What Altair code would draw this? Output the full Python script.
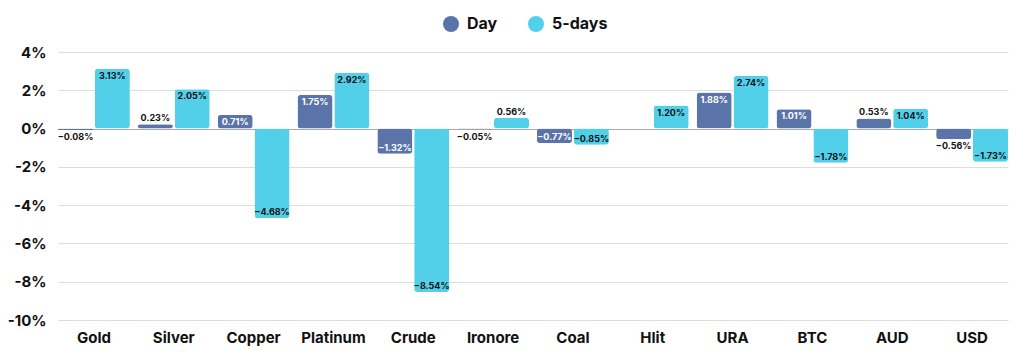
import altair as alt
import pandas as pd

categories = ["Gold", "Silver", "Copper", "Platinum", "Crude", "Ironore",
              "Coal", "Hlit", "URA", "BTC", "AUD", "USD"]
day = [-0.08, 0.23, 0.71, 1.75, -1.32, -0.05, -0.77, None, 1.88, 1.01, 0.53, -0.56]
five_days = [3.13, 2.05, -4.68, 2.92, -8.54, 0.56, -0.85, 1.20, 2.74, -1.78, 1.04, -1.73]
series_names = ["Day", "5-days"]
colors = ["#5a74aa", "#52cfe9"]
y_ticks = [4, 2, 0, -2, -4, -6, -8, -10]

FONT = "Inter"

rows = []
for c, d, f in zip(categories, day, five_days):
    if d is not None:
        rows.append({"cat": c, "series": "Day", "value": d})
    rows.append({"cat": c, "series": "5-days", "value": f})
df = pd.DataFrame(rows)

base = alt.Chart(df).transform_calculate(
    label="format(datum.value, '.2f') + '%'",
    inside="abs(datum.value) >= 0.6",
    below="(datum.value > 0) == (abs(datum.value) >= 0.6)",
)

x_enc = alt.X("cat:N", sort=categories,
              scale=alt.Scale(paddingInner=0.1, paddingOuter=0),
              axis=alt.Axis(title=None, labelAngle=0, domain=False, ticks=False, grid=False,
                            labelFont=FONT, labelFontSize=15, labelFontWeight="bold",
                            labelColor="#111111", labelPadding=10))
xo_enc = alt.XOffset("series:N", sort=series_names, scale=alt.Scale(paddingInner=0.05))
y_enc = alt.Y("value:Q", scale=alt.Scale(domain=[-10, 4], nice=False, zero=False),
              axis=alt.Axis(title=None, values=y_ticks, labelExpr="datum.value + '%'",
                            labelOverlap=False, domain=False, ticks=False,
                            labelFont=FONT, labelFontSize=15,
                            labelFontWeight="bold", labelColor="#111111", labelPadding=12,
                            gridColor={"condition": {"test": "datum.value === 0", "value": "#aaaaaa"},
                                       "value": "#dddddd"},
                            gridWidth=1.2))

bars = base.mark_bar(cornerRadius=3).encode(
    x=x_enc, xOffset=xo_enc, y=y_enc,
    color=alt.Color("series:N", sort=series_names,
                    scale=alt.Scale(domain=series_names, range=colors),
                    legend=alt.Legend(title=None, orient="none", direction="horizontal",
                                      legendX=385, legendY=-36, symbolType="circle",
                                      symbolSize=256, symbolStrokeWidth=0, symbolOpacity=1,
                                      labelFont=FONT, labelFontSize=16, labelFontWeight="bold",
                                      labelColor="#111111", labelOffset=8, columnPadding=30,
                                      padding=0)),
)

txt_color = alt.condition("datum.inside && datum.series == 'Day'",
                          alt.value("white"), alt.value("#111111"))

lab_below = base.transform_filter("datum.below").mark_text(
    font=FONT, fontSize=9, fontWeight="bold", baseline="middle", dy=7
).encode(x=x_enc, xOffset=xo_enc, y=y_enc, text="label:N", color=txt_color)

lab_above = base.transform_filter("!datum.below").mark_text(
    font=FONT, fontSize=9, fontWeight="bold", baseline="middle", dy=-6
).encode(x=x_enc, xOffset=xo_enc, y=y_enc, text="label:N", color=txt_color)

chart = alt.layer(bars, lab_below, lab_above).properties(
    width=950, height=268,
    background="white",
    autosize=alt.AutoSizeParams(type="none"),
    padding={"left": 50, "top": 44, "right": 8, "bottom": 34},
).configure_view(stroke=None)

chart.save("out.html", embed_options={"renderer": "svg", "actions": False})
